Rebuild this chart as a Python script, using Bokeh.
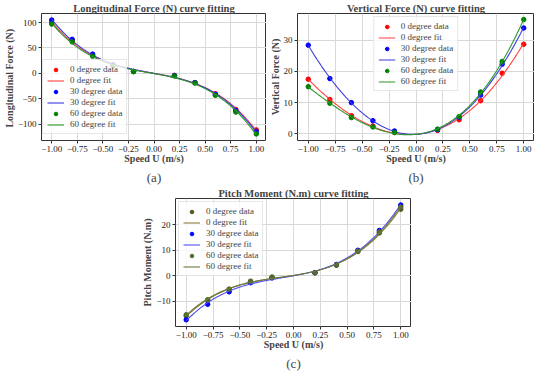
import numpy as np
from bokeh.plotting import figure
from bokeh.models import Range1d, FixedTicker, Title, Spacer
from bokeh.layouts import column, row
from bokeh.embed import file_html
from bokeh.resources import INLINE

speed = [-1.0, -0.8, -0.6, -0.4, -0.2, 0.2, 0.4, 0.6, 0.8, 1.0]
x_ticks = [-1.0, -0.75, -0.5, -0.25, 0.0, 0.25, 0.5, 0.75, 1.0]
degree_names = ["0 degree", "30 degree", "60 degree"]

long_0 = [100, 65, 36, 16, 4, -4, -18, -40, -71, -111]
long_30 = [105, 67, 38, 17, 4, -4, -18, -41, -73, -114]
long_60 = [97, 62, 34, 15, 3.5, -5, -19, -43, -76, -119]
long_ticks = [-100, -50, 0, 50, 100]

vert_0 = [17.5, 11.0, 5.8, 2.5, 0.5, 1.1, 4.5, 10.6, 19.4, 28.7]
vert_30 = [28.4, 17.7, 10.0, 4.2, 0.9, 1.3, 5.3, 12.4, 22.3, 33.9]
vert_60 = [15.1, 9.8, 5.2, 2.2, 0.4, 1.5, 5.5, 13.4, 23.2, 36.6]
vert_ticks = [0, 10, 20, 30]

pitch_0 = [-15.9, -9.7, -5.5, -2.3, -0.6, 1.1, 4.1, 9.5, 16.8, 26.2]
pitch_30 = [-17.4, -11.3, -6.4, -2.8, -0.9, 1.2, 4.4, 10.0, 17.8, 27.8]
pitch_60 = [-15.4, -9.5, -5.3, -2.2, -0.6, 1.1, 4.2, 9.7, 17.2, 27.0]
pitch_ticks = [-10, 0, 10, 20]

SERIF = "'Liberation Serif', 'Times New Roman', serif"


def fmt(v, dec):
    s = f"{abs(v):.{dec}f}"
    return ("\u2212" + s) if v < 0 else s


def panel(title, ylabel, caption, series, data_cols, fit_cols, yticks, legend_loc,
          width, height, left, right, top, bottom, deg):
    xs_fit = np.linspace(-1.0, 1.0, 200)
    fits = [np.polyval(np.polyfit(speed, s, deg), xs_fit) for s in series]
    allv = np.concatenate([np.array(s, dtype=float) for s in series] + fits)
    lo, hi = allv.min(), allv.max()
    m = 0.05 * (hi - lo)
    p = figure(width=width, height=height, output_backend="svg", toolbar_location=None,
               x_range=Range1d(-1.1, 1.1), y_range=Range1d(lo - m, hi + m),
               min_border_left=left, min_border_right=right,
               min_border_top=top, min_border_bottom=bottom)
    p.background_fill_color = "white"
    p.border_fill_color = "white"
    p.outline_line_color = "#333333"
    p.outline_line_width = 1
    p.title.text = title
    p.title.align = "center"
    p.title.text_font = SERIF
    p.title.text_font_style = "bold"
    p.title.text_font_size = "10.5px"
    p.title.standoff = 0
    p.title.offset = 0

    for ax in (p.xaxis[0], p.yaxis[0]):
        ax.major_label_text_font = SERIF
        ax.major_label_text_font_size = "9px"
        ax.major_label_text_color = "#222222"
        ax.axis_label_text_font = SERIF
        ax.axis_label_text_font_style = "bold"
        ax.axis_label_text_font_size = "10px"
        ax.major_label_standoff = 2
        ax.major_tick_out = 3
        ax.major_tick_in = 0
        ax.minor_tick_out = 0
        ax.minor_tick_in = 0
        ax.axis_line_color = None
        ax.major_tick_line_color = "#333333"
    p.xaxis.axis_label_standoff = -2
    p.yaxis.axis_label_standoff = 0

    p.xaxis.axis_label = "Speed U (m/s)"
    p.yaxis.axis_label = ylabel
    p.xaxis.ticker = FixedTicker(ticks=x_ticks)
    p.yaxis.ticker = FixedTicker(ticks=yticks)
    p.xaxis.major_label_overrides = {t: fmt(t, 2) for t in x_ticks}
    p.yaxis.major_label_overrides = {t: fmt(t, 0) for t in yticks}
    p.grid.grid_line_color = "#d8d8d8"
    p.grid.grid_line_width = 1

    for name, s, f, dc, fc in zip(degree_names, series, fits, data_cols, fit_cols):
        p.scatter(speed, s, size=4.5, color=dc, legend_label=name + " data")
        p.line(xs_fit, f, line_color=fc, line_width=1.1, line_alpha=1.0,
               legend_label=name + " fit")

    lg = p.legend[0]
    lg.location = legend_loc
    lg.label_text_font = SERIF
    lg.label_text_font_size = "9px"
    lg.label_height = 9
    lg.glyph_height = 9
    lg.glyph_width = 17
    lg.spacing = 1
    lg.padding = 4
    lg.margin = 3
    lg.label_standoff = 6
    lg.border_line_color = "#d0d0d0"
    lg.background_fill_alpha = 0.8

    p.add_layout(Title(text=caption, align="center", text_font=SERIF,
                       text_font_style="normal", text_font_size="13px",
                       standoff=2, offset=0), "below")
    return p


pa = panel("Longitudinal Force (N) curve fitting", "Longitudinal Force  (N)", "(a)",
           [long_0, long_30, long_60], ["red", "blue", "green"],
           ["#ff4040", "#3a3adf", "#2a962a"], long_ticks, (1, 6),
           266, 185, 28, 0, 6, 0, 3)
pb = panel("Vertical Force (N) curve fitting", "Vertical Force (N)", "(b)",
           [vert_0, vert_30, vert_60], ["red", "blue", "green"],
           ["#ff4040", "#3a3adf", "#2a962a"], vert_ticks, "top_center",
           268, 185, 26, 0, 9, 0, 3)
pc = panel("Pitch Moment (N.m) curve fitting", "Pitch Moment (N.m)", "(c)",
           [pitch_0, pitch_30, pitch_60], ["#4f5520", "blue", "#556b2f"],
           ["#8b7b3b", "#5050ff", "#6b7b3b"], pitch_ticks, "top_left",
           272, 186, 30, 0, 12, 0, 3)

layout = column(row(pa, pb), row(Spacer(width=139, height=186), pc))

open("out.html", "w").write(file_html(layout, INLINE))
